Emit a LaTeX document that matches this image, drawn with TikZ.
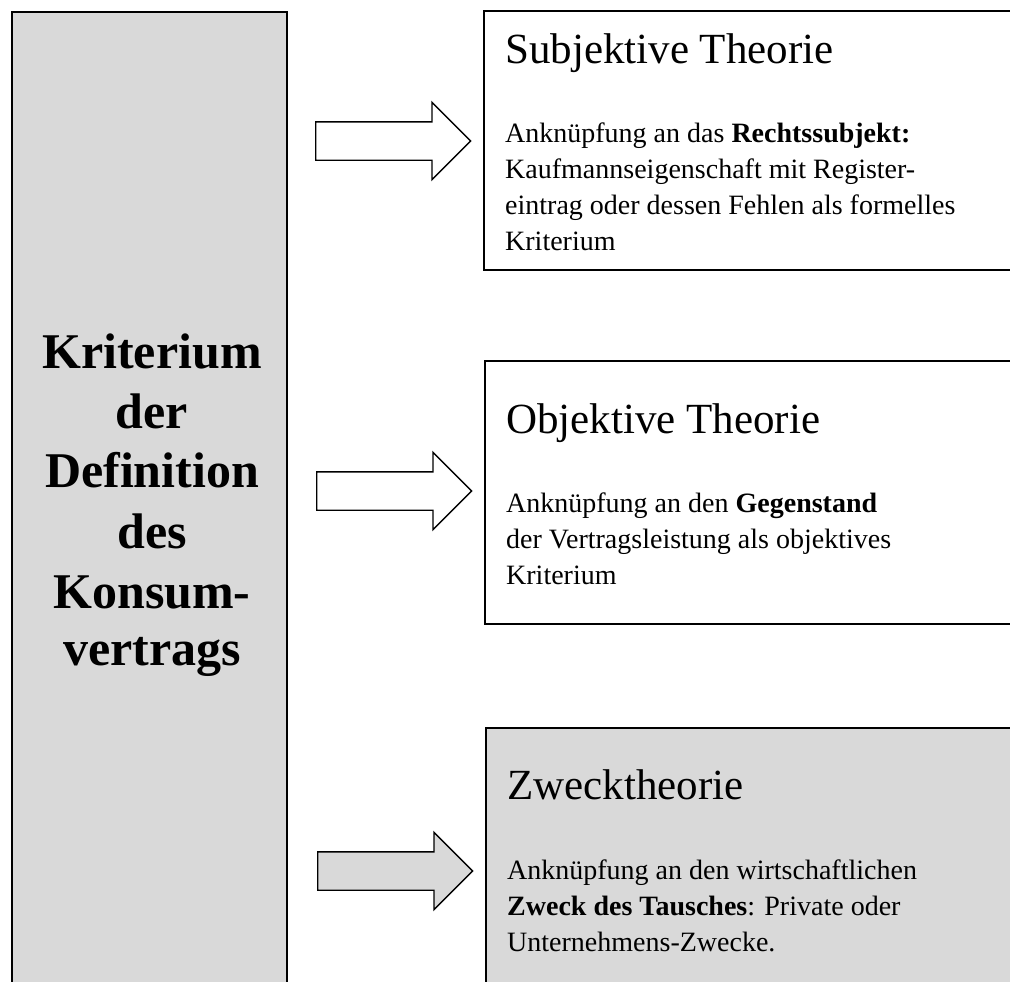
\documentclass[tikz,border=0pt]{standalone}
\usepackage{fontspec}
\setmainfont{Liberation Serif}
\usetikzlibrary{shapes.arrows}
\definecolor{screen}{HTML}{D9D9D9}
\tikzset{
  panel/.style={draw=black, line width=2pt, rectangle, inner sep=0pt, anchor=north west},
  shaded/.style={fill=screen},
  blockarrow/.style={single arrow, draw=black, fill=white, line width=1.4pt,
    inner xsep=0pt, inner ysep=18.5pt, single arrow head extend=19.5pt,
    minimum height=155pt, anchor=tail},
  heading/.style={anchor=base west, inner sep=0pt, font=\fontsize{43}{50}\selectfont},
  bodyline/.style={anchor=base west, inner sep=0pt, font=\fontsize{28}{36}\selectfont},
  keyline/.style={anchor=base, inner sep=0pt, font=\fontsize{50}{60}\selectfont\bfseries},
}
\begin{document}
\begin{tikzpicture}[x=1pt,y=-1pt]
\useasboundingbox (0,0) rectangle (1010,982);
\clip (0,0) rectangle (1010,982);

% left column: the criterion
\node[panel, shaded, minimum width=275pt, minimum height=1000pt] (crit) at (11,11) {};
\node[keyline] (k1) at (152,368) {Kriterium};
\node[keyline] (k2) at (152,428) {der};
\node[keyline] (k3) at (152,487) {Definition};
\node[keyline] (k4) at (152,548) {des};
\node[keyline] (k5) at (152,608) {Konsum-};
\node[keyline] (k6) at (152,665) {vertrags};

% right column: the three theories
\node[panel, minimum width=560pt, minimum height=259pt] (subj) at (483,10) {};
\node[panel, minimum width=560pt, minimum height=263pt] (obj) at (484,360) {};
\node[panel, shaded, minimum width=560pt, minimum height=300pt] (zweck) at (485,727) {};

% block arrows
\node[blockarrow] (a1) at (315,141) {};
\node[blockarrow] (a2) at (316,491) {};
\node[blockarrow, fill=screen] (a3) at (317,871) {};

% Subjektive Theorie
\node[heading] (subjT) at (505,64) {Subjektive Theorie};
\node[bodyline] (subj1) at (505,142) {Anknüpfung an das \textbf{Rechtssubjekt:}};
\node[bodyline] (subj2) at (505,178) {Kaufmannseigenschaft mit Register-};
\node[bodyline] (subj3) at (505,214) {eintrag oder dessen Fehlen als formelles};
\node[bodyline] (subj4) at (505,250) {Kriterium};

% Objektive Theorie
\node[heading] (objT) at (506,433) {Objektive Theorie};
\node[bodyline] (obj1) at (506,512) {Anknüpfung an den \textbf{Gegenstand}};
\node[bodyline] (obj2) at (506,548) {der Vertragsleistung als objektives};
\node[bodyline] (obj3) at (506,584) {Kriterium};

% Zwecktheorie
\node[heading] (zweckT) at (507,799) {Zwecktheorie};
\node[bodyline] (zweck1) at (507,879) {Anknüpfung an den wirtschaftlichen};
\node[bodyline] (zweck2) at (507,915) {\textbf{Zweck des Tausches}: Private oder};
\node[bodyline] (zweck3) at (507,951) {Unternehmens-Zwecke.};
\end{tikzpicture}
\end{document}
